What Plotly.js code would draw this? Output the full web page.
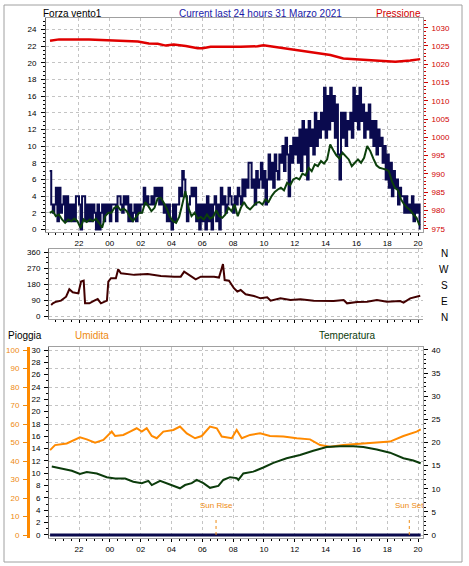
<!DOCTYPE html>
<html><head><meta charset="utf-8">
<script src="https://cdn.plot.ly/plotly-3.0.1.min.js"></script>
<style>html,body{margin:0;padding:0;background:#fff}#chart{width:469px;height:566px}</style>
</head><body><div id="chart"></div>
<script>
// ---------- DATA ----------
// hour axis: 20..44 (44 = 20:00 of 31 Marzo)
const hourTickVals = [22,24,26,28,30,32,34,36,38,40,42,44];
const hourTickText = ['22','00','02','04','06','08','10','12','14','16','18','20'];

// gust readings, one every 6 minutes starting 20:06
const gustStart = 20.1;
const gustStep = 0.1;
const gust = [
  7,3,2,3,5,1,5,2,3,4,
  1,4,1,3,1,3,1,4,4,3,
  0,4,4,1,3,1,3,1,3,2,
  0,3,0,2,3,1,3,2,3,1,
  3,3,3,1,4,4,3,2,4,3,
  4,1,3,1,2,3,1,3,2,3,
  3,5,3,4,3,3,4,3,5,4,
  5,3,5,3,2,3,1,3,1,0,
  3,1,3,3,5,4,7,6,4,1,
  3,4,5,4,5,1,3,0,3,1,
  3,0,4,1,3,0,3,4,1,3,
  0,5,3,4,2,3,5,4,3,2,
  4,3,5,4,3,6,4,6,5,8,
  8,5,6,3,7,5,6,8,5,7,
  3,6,9,6,8,5,9,7,6,9,
  8,10,7,11,9,4,10,8,11,9,
  11,8,12,7,13,9,12,6,13,10,
  12,9,14,10,13,11,14,12,17,11,
  16,12,17,13,16,11,15,9,6,14,
  11,14,10,13,12,14,11,17,13,16,
  12,17,13,15,11,14,12,15,11,13,
  10,13,9,12,10,11,8,10,6,9,
  5,8,4,7,5,6,3,5,4,4,
  2,4,2,3,2,4,1,3,2,3,
  0];

// average wind readings, one every 12 minutes starting 20:06
const speedStart = 20.1;
const speedStep = 0.2;
const windSpeed = [2,2.2,1.6,1.8,1.2,0.8,1.2,1.0,1.3,1.0,
  0.2,1.2,0.9,1.2,1.0,1.3,0.8,0.2,1.6,2.0,
  2.0,2.6,2.8,2.3,2.5,2.2,1.5,1.0,1.5,2.0,
  2.0,3.3,2.8,2.2,2.6,3.7,3.8,3.2,2.5,1.5,
  1.0,0.8,1.5,3.0,4.6,2.6,1.6,2.0,1.3,1.5,
  1.2,1.8,1.3,1.5,2.3,1.6,1.4,1.8,2.6,2.2,
  3.0,1.6,2.6,3.3,2.7,2.4,2.8,3.2,3.3,3.0,
  3.6,3.3,4.0,4.5,4.8,5.0,4.7,5.6,5.3,6.0,
  6.2,6.0,6.7,6.5,7.4,7.0,7.8,7.6,8.2,7.9,
  8.4,10.2,9.5,8.9,8.5,9.2,8.8,8.4,7.6,8.0,
  8.4,8.0,8.6,10.0,9.4,8.5,7.7,7.4,7.3,7.2,
  7.0,5.8,5.0,4.7,3.6,3.0,2.6,2.3,1.8,1.4,
  0.5];

const presTimes = [20.12,20.71,22.65,24.2,25.04,25.82,26.53,27.11,27.63,28.15,28.93,29.7,30.03,30.54,32.49,33.59,33.97,35.07,36.17,37.21,38.31,39.15,40.12,41.35,42.52,43.49,44.14];
const pressure = [1026.4,1026.8,1026.8,1026.45,1026.2,1026.2,1025.7,1025.6,1025.1,1025.4,1025.0,1024.4,1024.4,1024.8,1024.8,1024.9,1025.2,1024.5,1023.9,1023.2,1022.5,1021.6,1021.3,1021.0,1020.7,1021.0,1021.4];

const dirTimes = [20.19,20.30,20.51,20.83,21.16,21.37,21.59,21.81,21.95,22.13,22.30,22.39,22.67,22.99,23.21,23.42,23.64,23.81,23.90,24.07,24.39,24.54,24.72,25.15,25.58,26.45,27.31,28.17,28.60,28.82,29.14,29.57,29.90,30.76,31.08,31.26,31.34,31.45,31.73,32.05,32.27,32.49,32.81,33.35,33.78,34.21,34.43,35.07,35.72,36.37,37.23,38.52,39.17,39.39,40.04,40.69,41.33,41.98,42.84,43.06,43.49,44.14];
const direction = [64,73,82,88,110,152,135,133,129,195,200,73,73,88,97,73,79,88,195,214,214,264,242,238,233,238,227,223,223,251,233,208,223,223,218,270,294,204,200,158,139,148,124,114,101,107,88,101,92,96,88,86,92,73,81,82,92,82,86,77,101,116];
const dirLetters = ['N','W','S','E','N'];
const dirLetterVals = [360,270,180,90,0];

const humTimes = [20.12,20.44,21.20,21.74,22.06,22.50,23.04,23.58,24.12,24.34,24.87,25.31,25.74,26.07,26.39,26.72,27.04,27.47,28.12,28.55,28.99,29.53,29.96,30.50,30.94,31.26,31.91,32.23,32.56,33.10,33.75,34.39,35.26,36.13,36.99,37.64,38.29,39.15,40.02,40.88,42.18,43.05,43.91,44.17];
const humidity = [45.9,48.6,49.5,51.4,52.8,51.7,49.9,51.4,55.9,53.5,54.1,55.9,57.7,55.9,57.7,53.5,52.3,55.9,56.8,58.6,54.9,52.3,53.5,58.6,57.7,53.2,52.3,56.8,52.3,54.1,55.0,53.5,53.2,52.3,51.7,48.6,47.7,48.6,49.2,49.5,50.5,53.5,55.9,57.1];

const tempTimes = [20.23,20.98,21.53,22.06,22.50,23.15,23.80,24.34,24.99,25.52,26.07,26.50,26.72,27.26,27.80,28.55,28.88,29.31,29.64,30.07,30.50,31.04,31.36,31.80,32.23,32.34,32.66,33.31,33.96,34.61,35.47,36.34,37.20,38.07,38.93,39.80,40.45,41.32,42.18,43.05,43.69,44.17];
const temperature = [14.8,14.2,13.9,13.2,13.6,13.3,12.5,12.2,12.2,11.5,11.2,11.7,10.8,11.7,11.0,10.1,10.8,11.2,11.9,11.2,10.2,10.6,11.9,12.5,12.3,11.9,13.3,13.7,14.6,15.6,16.6,17.3,18.2,19.0,19.2,19.2,19.0,18.5,17.8,16.6,16.1,15.5];

const rainTimes = [20.12,44.17];
const rain = [0,0];

const sunLabels = ['Sun Rise','Sun Set'];
const sunTimes = [30.89,43.43];

// ---------- CHART ----------
const W = 469, H = 566;
const px = v => v / W, py = v => 1 - v / H;
const gustTimes = gust.map((_, i) => gustStart + gustStep * i);
const speedTimes = windSpeed.map((_, i) => speedStart + speedStep * i);

const C = {
  gust: '#0a0a4e', speed: '#0c400c', pres: '#e00000', dir: '#420000',
  hum: '#ff8a00', temp: '#0c3c0c', rain: '#0a0a4e', grid: '#c4c4c4',
  frame: '#a0a0a0', title: '#1a1aa8', presTxt: '#d00000', humTxt: '#ee8a10'
};

const traces = [
  {x: gustTimes, y: gust, xaxis: 'x', yaxis: 'y', mode: 'lines', line: {color: C.gust, width: 2, shape: 'hv', simplify: false}},
  {x: speedTimes, y: windSpeed, xaxis: 'x', yaxis: 'y', mode: 'lines', line: {color: C.speed, width: 2, simplify: false}},
  {x: presTimes, y: pressure, xaxis: 'x', yaxis: 'y2', mode: 'lines', line: {color: C.pres, width: 2.5}},
  {x: dirTimes, y: direction, xaxis: 'x2', yaxis: 'y3', mode: 'lines', line: {color: C.dir, width: 2}},
  {x: humTimes, y: humidity, xaxis: 'x3', yaxis: 'y5', mode: 'lines', line: {color: C.hum, width: 2}},
  {x: tempTimes, y: temperature, xaxis: 'x3', yaxis: 'y6', mode: 'lines', line: {color: C.temp, width: 2}},
  {x: rainTimes, y: rain, xaxis: 'x3', yaxis: 'y4', mode: 'lines', line: {color: C.rain, width: 3}}
];

const tf = (c) => ({family: 'Liberation Sans, Arial, sans-serif', size: 8, color: c || '#000'});
const xBase = (dom, anchor, labels) => ({
  domain: dom, anchor: anchor, range: null,
  tickmode: 'array', tickvals: hourTickVals, ticktext: hourTickText,
  showticklabels: labels, ticks: 'outside', ticklen: 3, tickcolor: '#000',
  tickfont: tf(), showline: true, linecolor: C.frame, mirror: true,
  showgrid: true, gridcolor: C.grid, griddash: 'dot', gridwidth: 1, zeroline: false,
  minor: {tickmode: 'linear', tick0: 0, dtick: 0.5, ticks: 'outside', ticklen: 2, tickcolor: '#000', showgrid: false}
});

const xd1 = [px(46), px(423)];
const xd2 = [px(49), px(423)];
const xa1 = xBase(xd1, 'y', true); xa1.range = [19.86, 44.32];
const xa2 = xBase(xd2, 'y3', false); xa2.range = [20.05, 44.32];
const xa3 = xBase(xd2, 'y4', true); xa3.range = [20.05, 44.32];

const layout = {
  width: W, height: H, margin: {l: 0, r: 0, t: 0, b: 0},
  paper_bgcolor: '#fff', plot_bgcolor: '#fff', showlegend: false,
  font: {family: 'Liberation Sans, Arial, sans-serif', size: 8, color: '#000'},
  xaxis: xa1, xaxis2: xa2, xaxis3: xa3,
  yaxis: {
    domain: [py(232), py(18)], anchor: 'x', range: [-0.3, 25.36],
    tickmode: 'linear', tick0: 0, dtick: 2, ticks: 'outside', ticklen: 4, tickcolor: '#000',
    ticklabelstandoff: 3, tickfont: tf(), showline: true, linecolor: '#606060',
    showgrid: true, gridcolor: C.grid, griddash: 'dot', zeroline: false,
    minor: {tickmode: 'linear', tick0: 0, dtick: 0.5, ticks: 'outside', ticklen: 2, tickcolor: '#000', showgrid: false}
  },
  yaxis2: {
    overlaying: 'y', side: 'right', anchor: 'x', range: [974.1, 1032.65],
    tickmode: 'linear', tick0: 975, dtick: 5, ticks: 'outside', ticklen: 4, tickcolor: C.presTxt,
    ticklabelstandoff: 2, tickfont: tf(C.presTxt), showline: true, linecolor: C.frame,
    showgrid: false, zeroline: false,
    minor: {tickmode: 'linear', tick0: 975, dtick: 1, ticks: 'outside', ticklen: 2, tickcolor: C.presTxt}
  },
  yaxis3: {
    domain: [py(319), py(249.3)], anchor: 'x2', range: [-15.2, 376.8],
    tickmode: 'linear', tick0: 0, dtick: 90, ticks: 'outside', ticklen: 4, tickcolor: '#000',
    ticklabelstandoff: 2, tickfont: tf(), showline: true, linecolor: '#606060',
    showgrid: true, gridcolor: C.grid, griddash: 'dot', zeroline: false,
    minor: {tickmode: 'linear', tick0: 0, dtick: 30, ticks: 'outside', ticklen: 2, tickcolor: '#000', showgrid: false}
  },
  yaxis4: {
    domain: [py(538), py(347.3)], anchor: 'x3', range: [-0.49, 30.44],
    tickmode: 'linear', tick0: 0, dtick: 2, ticks: 'outside', ticklen: 4, tickcolor: '#000',
    ticklabelstandoff: 2, tickfont: tf(), showline: true, linecolor: '#606060',
    showgrid: false, zeroline: false,
    minor: {tickmode: 'linear', tick0: 0, dtick: 1, ticks: 'outside', ticklen: 2, tickcolor: '#000', showgrid: false}
  },
  yaxis5: {
    overlaying: 'y4', anchor: 'free', position: px(28), side: 'left', range: [-1.62, 101.46],
    tickmode: 'linear', tick0: 0, dtick: 10, ticks: 'outside', ticklen: 4, tickcolor: C.humTxt,
    ticklabelstandoff: 2, tickfont: tf(C.humTxt), showline: true, linecolor: C.hum, linewidth: 3,
    showgrid: true, gridcolor: C.grid, griddash: 'dot', zeroline: false
  },
  yaxis6: {
    overlaying: 'y4', side: 'right', anchor: 'x3', range: [-0.65, 40.58],
    tickmode: 'linear', tick0: 0, dtick: 5, ticks: 'outside', ticklen: 4, tickcolor: '#000',
    ticklabelstandoff: 2, tickfont: tf(), showline: true, linecolor: C.frame,
    showgrid: false, zeroline: false,
    minor: {tickmode: 'linear', tick0: 0, dtick: 1, ticks: 'outside', ticklen: 2, tickcolor: '#000'}
  },
  shapes: [
    {type: 'rect', xref: 'paper', yref: 'paper', x0: px(4), x1: px(462), y0: py(562), y1: py(5), line: {color: C.frame, width: 1}}
  ],
  annotations: []
};

const tFont = (c, s) => ({family: 'Liberation Sans, Arial, sans-serif', size: s || 10, color: c});
const ann = (text, x, y, c, xa, s) => layout.annotations.push({text: text, xref: 'paper', yref: 'paper', x: px(x), y: py(y), xanchor: xa || 'left', yanchor: 'middle', showarrow: false, font: tFont(c, s)});
ann('Forza vento1', 41, 14, '#000');
ann('Current last 24 hours 31 Marzo 2021', 177, 14, C.title);
ann('Pressione', 423, 14, C.presTxt, 'right');
ann('Pioggia', 6, 335, '#000');
ann('Umidita', 73, 335, C.humTxt);
ann('Temperatura', 317, 335, C.temp);

dirLetters.forEach((l, i) => layout.annotations.push({
  text: l, xref: 'paper', yref: 'y3', x: px(444), y: dirLetterVals[i], yshift: -1.5,
  xanchor: 'center', yanchor: 'middle', showarrow: false, font: tFont('#000', 10)
}));

sunTimes.forEach((t, i) => {
  layout.shapes.push({type: 'line', xref: 'x3', yref: 'y4', x0: t, x1: t, y0: 0, y1: 2.5, line: {color: C.humTxt, width: 1, dash: 'dot'}});
  layout.annotations.push({text: sunLabels[i], xref: 'x3', yref: 'y4', x: t, y: 4.75, xanchor: 'center', yanchor: 'middle', showarrow: false, font: tFont(C.humTxt, 8)});
});

Plotly.newPlot('chart', traces, layout, {displayModeBar: false, staticPlot: true});
</script></body></html>
